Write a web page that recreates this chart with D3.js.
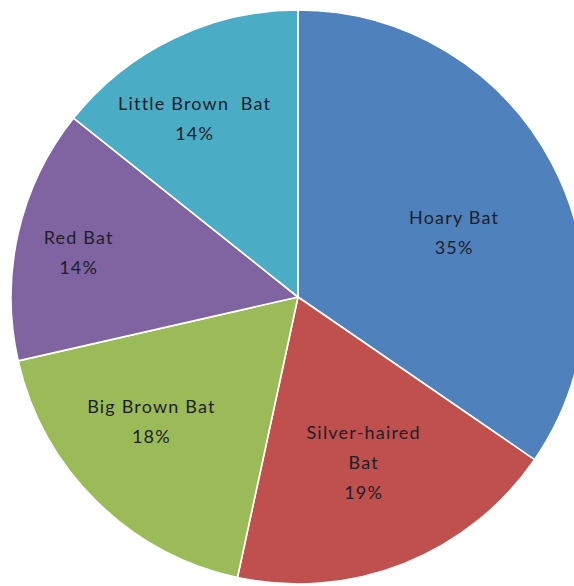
<!DOCTYPE html>
<html>
<head>
<meta charset="utf-8">
<script src="https://cdn.jsdelivr.net/npm/d3@7"></script>
<style>
  html, body { margin: 0; padding: 0; background: #ffffff; overflow: hidden; }
  svg { display: block; }
</style>
</head>
<body>
<svg id="chart" width="574" height="586"></svg>
<script>
// Data (counts; labels show rounded percentages)
const categories = ["Hoary Bat", "Silver-haired Bat", "Big Brown Bat", "Red Bat", "Little Brown Bat"];
const counts = [46, 25, 24, 19, 19];
const labelLines = [["Hoary Bat"], ["Silver-haired", "Bat"], ["Big Brown Bat"], ["Red Bat"], ["Little Brown  Bat"]];
const colors = ["#4F81BD", "#C0504D", "#9BBB59", "#8064A2", "#4BACC6"];

// Layout
const W = 574, H = 586;
const cx = 298, cy = 297, R = 287;
// label placement (fraction of radius, angle nudge in degrees) per slice
const labelRFrac = [0.59, 0.62, 0.67, 0.78, 0.72];
const labelAngNudge = [5, 0, 5, -1.3, -4.3];
const lineH = 30;

const svg = d3.select("#chart");
const g = svg.append("g").attr("transform", `translate(${cx},${cy})`);

const data = categories.map((c, i) => ({ name: c, value: counts[i], i }));
const total = d3.sum(counts);

const pie = d3.pie().value(d => d.value).sort(null);
const arcs = pie(data);
const arc = d3.arc().innerRadius(0).outerRadius(R);

g.selectAll("path.slice")
  .data(arcs)
  .enter().append("path")
  .attr("class", "slice")
  .attr("d", arc)
  .attr("fill", d => colors[d.data.i])
  .attr("stroke", "#ffffff")
  .attr("stroke-width", 1.6)
  .attr("stroke-linejoin", "round");

const fmt = v => Math.round(v / total * 100) + "%";

arcs.forEach(a => {
  const i = a.data.i;
  const mid = (a.startAngle + a.endAngle) / 2 + labelAngNudge[i] * Math.PI / 180;
  const r = labelRFrac[i] * R;
  const x = Math.sin(mid) * r;
  const y = -Math.cos(mid) * r;
  const lines = labelLines[i].concat([fmt(a.data.value)]);
  const n = lines.length;
  const t = g.append("text")
    .attr("text-anchor", "middle")
    .attr("font-family", "Lato, 'Open Sans', sans-serif")
    .attr("font-size", 18)
    .attr("letter-spacing", 1.2)
    .attr("fill", "#1e1e28")
    .attr("x", x)
    .attr("y", y - (n - 1) * lineH / 2)
    .attr("dominant-baseline", "central");
  lines.forEach((ln, k) => {
    t.append("tspan")
      .attr("x", x)
      .attr("dy", k === 0 ? 0 : lineH)
      .attr("xml:space", "preserve")
      .style("white-space", "pre")
      .text(ln);
  });
});
</script>
</body>
</html>
